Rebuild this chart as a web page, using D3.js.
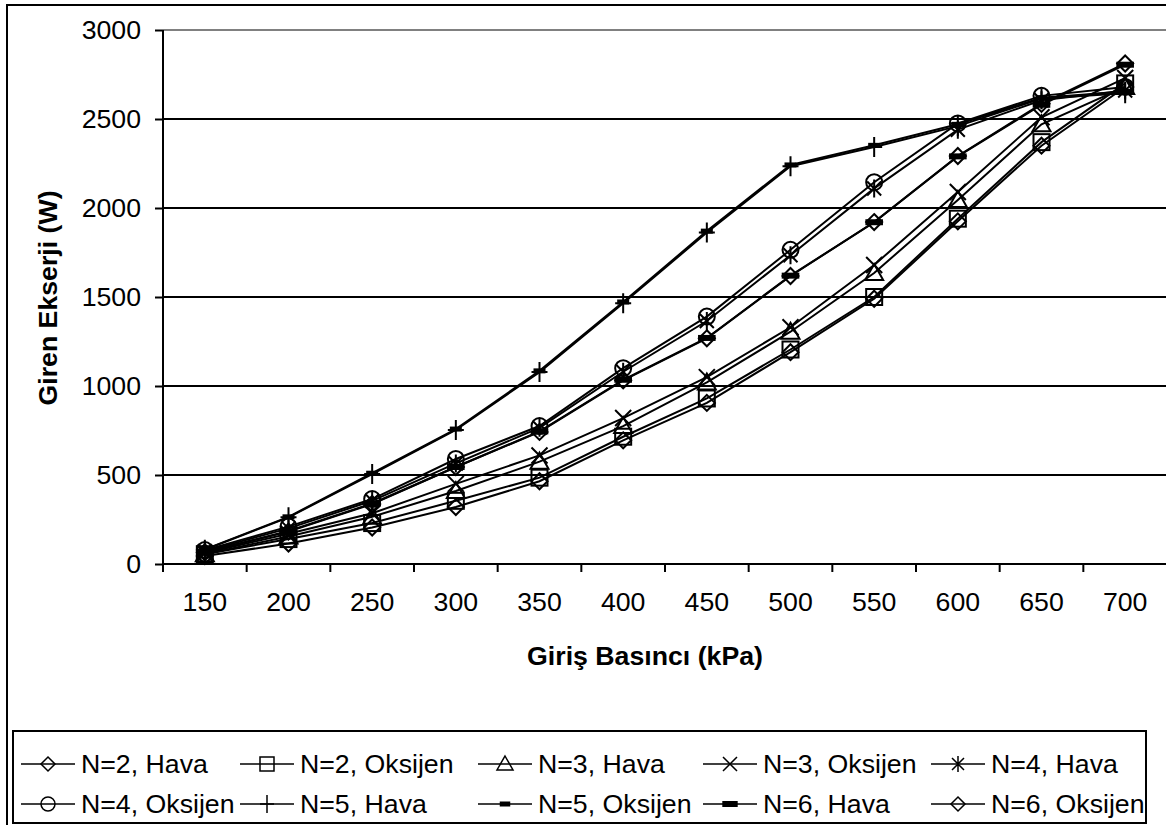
<!DOCTYPE html>
<html>
<head>
<meta charset="utf-8">
<script src="https://cdn.jsdelivr.net/npm/d3@7"></script>
<style>
  html, body { margin: 0; padding: 0; background: #fff; }
  svg { display: block; }
  text { font-family: "Liberation Sans", Arial, sans-serif; fill: #000; }
</style>
</head>
<body>
<svg id="chart" width="1166" height="825"></svg>
<script>
// ---- data ----
const categories = ["150","200","250","300","350","400","450","500","550","600","650","700"];
const yTicks = [0, 500, 1000, 1500, 2000, 2500, 3000];

const seriesNames = ["N=2, Hava","N=2, Oksijen","N=3, Hava","N=3, Oksijen","N=4, Hava",
                     "N=4, Oksijen","N=5, Hava","N=5, Oksijen","N=6, Hava","N=6, Oksijen"];
const seriesMarkers = ["diamond","square","triangle","cross","asterisk",
                       "circle","plus","dashSmall","dashBig","diamond"];

const n2Hava     = [45, 115, 205, 320, 465, 695, 905, 1190, 1490, 1925, 2350, 2680];
const n2Oksijen  = [55, 140, 230, 355, 485, 715, 930, 1205, 1500, 1940, 2370, 2700];
const n3Hava     = [55, 155, 265, 410, 575, 775, 1020, 1305, 1635, 2045, 2470, 2680];
const n3Oksijen  = [60, 170, 285, 450, 610, 820, 1050, 1330, 1680, 2090, 2510, 2730];
const n4Hava     = [72, 200, 355, 565, 765, 1080, 1365, 1735, 2110, 2440, 2605, 2660];
const n4Oksijen  = [78, 210, 365, 590, 775, 1100, 1390, 1765, 2145, 2475, 2630, 2680];
const n5Hava     = [80, 262, 505, 753, 1078, 1465, 1862, 2235, 2343, 2460, 2615, 2645];
const n5Oksijen  = [82, 265, 510, 758, 1085, 1472, 1870, 2242, 2352, 2470, 2620, 2655];
const n6Hava     = [68, 185, 340, 545, 745, 1035, 1270, 1620, 1920, 2290, 2580, 2805];
const n6Oksijen  = [66, 182, 337, 545, 742, 1032, 1268, 1618, 1921, 2292, 2585, 2812];

const seriesValues = [n2Hava, n2Oksijen, n3Hava, n3Oksijen, n4Hava,
                      n4Oksijen, n5Hava, n5Oksijen, n6Hava, n6Oksijen];

const xTitle = "Giriş Basıncı (kPa)";
const yTitle = "Giren Ekserji (W)";

// ---- layout ----
const FS = 26.7;
const plot = { left: 163, right: 1167, top: 30, bottom: 564 };

const svg = d3.select("#chart");

// outer chart border
svg.append("rect").attr("x", 7).attr("y", 5).attr("width", 1250).attr("height", 900)
  .attr("fill", "none").attr("stroke", "#000").attr("stroke-width", 2);

const x = d3.scaleBand().domain(categories).range([plot.left, plot.right]).paddingInner(0).paddingOuter(0);
const y = d3.scaleLinear().domain([0, 3000]).range([plot.bottom, plot.top]);

// gridlines
svg.append("g").selectAll("line").data(yTicks.filter(t => t > 0)).join("line")
  .attr("x1", plot.left).attr("x2", plot.right)
  .attr("y1", d => y(d)).attr("y2", d => y(d))
  .attr("stroke", d => d === 3000 ? "#808080" : "#000")
  .attr("stroke-width", 2);

// y axis
const yAxis = svg.append("g").attr("transform", `translate(${plot.left},0)`)
  .call(d3.axisLeft(y).tickValues(yTicks).tickSize(8).tickPadding(14).tickFormat(d3.format("d")));
yAxis.select(".domain").attr("stroke", "#000").attr("stroke-width", 2).attr("d", `M0,${plot.bottom}V${plot.top}`);
yAxis.selectAll(".tick line").attr("stroke", "#000").attr("stroke-width", 2);
yAxis.selectAll(".tick text").attr("font-size", FS).attr("font-family", "Liberation Sans, Arial, sans-serif").attr("fill", "#000");

// x axis
const xAxis = svg.append("g").attr("transform", `translate(0,${plot.bottom})`)
  .call(d3.axisBottom(x).tickSize(0).tickPadding(28));
xAxis.select(".domain").attr("stroke", "#000").attr("stroke-width", 2).attr("d", `M${plot.left},0H${plot.right}`);
xAxis.selectAll(".tick text").attr("font-size", FS).attr("font-family", "Liberation Sans, Arial, sans-serif").attr("fill", "#000");
// band boundary ticks
const bounds = categories.map(c => x(c));
svg.append("g").selectAll("line").data(bounds).join("line")
  .attr("x1", d => d).attr("x2", d => d)
  .attr("y1", plot.bottom).attr("y2", plot.bottom + 8)
  .attr("stroke", "#000").attr("stroke-width", 2);

// titles
svg.append("text").attr("x", 645).attr("y", 656).attr("text-anchor", "middle")
  .attr("dominant-baseline", "central").attr("font-size", FS).attr("font-weight", "bold").text(xTitle);
svg.append("text").attr("transform", "translate(48,298) rotate(-90)").attr("text-anchor", "middle")
  .attr("dominant-baseline", "central").attr("font-size", FS).attr("font-weight", "bold").text(yTitle);

// marker drawing
function drawMarker(g, type, s, sw) {
  switch (type) {
    case "diamond":
      g.append("path").attr("d", `M0,${-s}L${s},0L0,${s}L${-s},0Z`).attr("fill", "none").attr("stroke", "#000").attr("stroke-width", sw); break;
    case "square":
      g.append("rect").attr("x", -s).attr("y", -s).attr("width", 2*s).attr("height", 2*s).attr("fill", "none").attr("stroke", "#000").attr("stroke-width", sw); break;
    case "triangle":
      g.append("path").attr("d", `M0,${-s-1}L${s+1},${s-1}L${-s-1},${s-1}Z`).attr("fill", "none").attr("stroke", "#000").attr("stroke-width", sw); break;
    case "cross":
      g.append("path").attr("d", `M${-s},${-s}L${s},${s}M${-s},${s}L${s},${-s}`).attr("stroke", "#000").attr("stroke-width", sw); break;
    case "asterisk":
      g.append("path").attr("d", `M${-s+1},${-s+1}L${s-1},${s-1}M${-s+1},${s-1}L${s-1},${-s+1}M0,${-s-1}L0,${s+1}`).attr("stroke", "#000").attr("stroke-width", sw); break;
    case "circle":
      g.append("circle").attr("r", s).attr("fill", "none").attr("stroke", "#000").attr("stroke-width", sw); break;
    case "plus":
      g.append("path").attr("d", `M${-s},0L${s},0M0,${-s-2}L0,${s+2}`).attr("stroke", "#000").attr("stroke-width", sw); break;
    case "dashSmall":
      g.append("rect").attr("x", -s*0.75).attr("y", -2.5).attr("width", s*1.5).attr("height", 5).attr("fill", "#000"); break;
    case "dashBig":
      g.append("rect").attr("x", -s*1.1).attr("y", -3).attr("width", s*2.2).attr("height", 6).attr("fill", "#000"); break;
  }
}

// series
const line = d3.line().x((d, i) => x(categories[i]) + x.bandwidth() / 2).y(d => y(d));
seriesValues.forEach((vals, si) => {
  const g = svg.append("g");
  g.append("path").datum(vals).attr("d", line).attr("fill", "none")
    .attr("stroke", "#000").attr("stroke-width", 2);
  vals.forEach((v, i) => {
    const mg = g.append("g").attr("transform", `translate(${x(categories[i]) + x.bandwidth()/2},${y(v)})`);
    drawMarker(mg, seriesMarkers[si], 8, 2);
  });
});

// legend
svg.append("rect").attr("x", 13).attr("y", 731).attr("width", 1133).attr("height", 92)
  .attr("fill", "#fff").attr("stroke", "#000").attr("stroke-width", 2);
const colX = [21, 240, 478, 703, 931];
const rowY = [764, 804];
seriesNames.forEach((name, i) => {
  const cx = colX[i % 5], cy = rowY[Math.floor(i / 5)];
  const g = svg.append("g").attr("transform", `translate(${cx},${cy})`);
  g.append("line").attr("x1", 0).attr("x2", 54).attr("y1", 0).attr("y2", 0)
    .attr("stroke", "#000").attr("stroke-width", 1.5);
  const mg = g.append("g").attr("transform", "translate(27,0)");
  drawMarker(mg, seriesMarkers[i], 7, 1.5);
  g.append("text").attr("x", 60).attr("y", 0).attr("dominant-baseline", "central")
    .attr("font-size", FS).text(name);
});
</script>
</body>
</html>
